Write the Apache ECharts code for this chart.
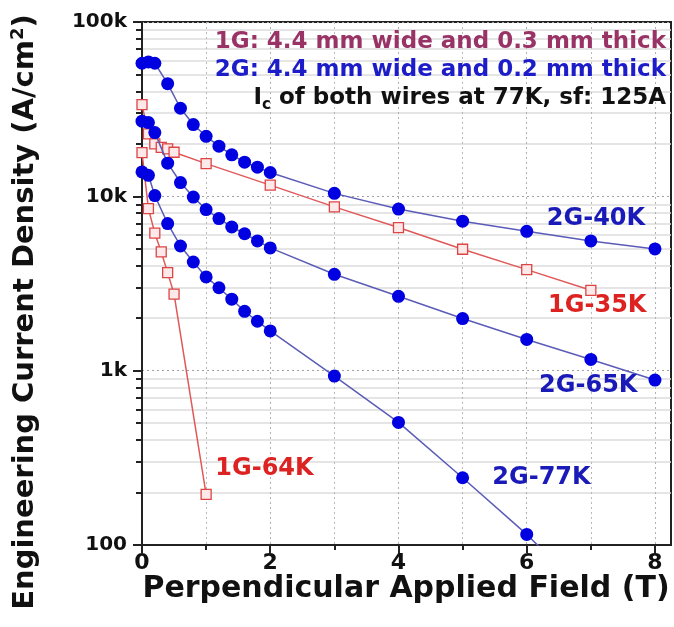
<!DOCTYPE html>
<html>
<head>
<meta charset="utf-8">
<script src="https://cdn.jsdelivr.net/npm/echarts@6/dist/echarts.min.js"></script>
<style>
html,body{margin:0;padding:0;background:#fff;}
#chart{width:674px;height:627px;}
</style>
</head>
<body>
<div id="chart"></div>
<script>
// ---- data ----
const x2G40 = [0, 0.1, 0.2, 0.4, 0.6, 0.8, 1.0, 1.2, 1.4, 1.6, 1.8, 2, 3, 4, 5, 6, 7, 8];
const y2G40 = [58000, 59000, 58000, 44300, 32000, 25800, 22100, 19400, 17300, 15700, 14700, 13700, 10400, 8450, 7200, 6300, 5550, 4990];

const x2G65 = [0, 0.1, 0.2, 0.4, 0.6, 0.8, 1.0, 1.2, 1.4, 1.6, 1.8, 2, 3, 4, 5, 6, 7, 8];
const y2G65 = [27000, 26500, 23200, 15500, 12000, 9900, 8400, 7450, 6670, 6100, 5550, 5060, 3570, 2670, 1990, 1510, 1160, 883];

const x2G77 = [0, 0.1, 0.2, 0.4, 0.6, 0.8, 1.0, 1.2, 1.4, 1.6, 1.8, 2, 3, 4, 5, 6, 7];
const y2G77 = [13800, 13200, 10100, 6980, 5190, 4200, 3450, 2990, 2570, 2190, 1920, 1690, 931, 505, 243, 115, 50];

const x1G35 = [0, 0.1, 0.2, 0.3, 0.4, 0.5, 1, 2, 3, 4, 5, 6, 7];
const y1G35 = [33600, 22800, 20000, 19100, 18700, 17900, 15400, 11600, 8700, 6620, 4970, 3800, 2890];

const x1G64 = [0, 0.1, 0.2, 0.3, 0.4, 0.5, 1];
const y1G64 = [17800, 8500, 6150, 4800, 3650, 2750, 195];

const xMajorTicks = [0, 2, 4, 6, 8];
const xMinorTicks = [1, 3, 5, 7];
const yMajorTicks = [100, 1000, 10000, 100000];
const yMinorTicks = [200, 300, 400, 500, 600, 700, 800, 900,
                     2000, 3000, 4000, 5000, 6000, 7000, 8000, 9000,
                     20000, 30000, 40000, 50000, 60000, 70000, 80000, 90000];
const yTickLabels = {100: '100', 1000: '1k', 10000: '10k', 100000: '100k'};

const textLine1 = '1G: 4.4 mm wide and 0.3 mm thick';
const textLine2 = '2G: 4.4 mm wide and 0.2 mm thick';
const textLine3a = 'I';
const textLine3b = 'c';
const textLine3c = ' of both wires at 77K, sf: 125A';
const xTitle = 'Perpendicular Applied Field (T)';
const yTitleA = 'Engineering Current Density (A/cm';
const yTitleSup = '2';
const yTitleB = ')';

// ---- build ----
const FF = '"DejaVu Sans", "Liberation Sans", Arial, sans-serif';
const pairs = (xs, ys) => xs.map((v, i) => [v, ys[i]]);

const BLUE_LINE = '#5b5bb8';
const BLUE_DOT = '#0000e0';
const RED_LINE = '#e05858';
const RED_TEXT = '#dd2222';
const BLUE_TEXT = '#1a1ab8';

function labelPoint(text, coord, color) {
  return {
    silent: true,
    symbol: 'circle',
    symbolSize: 1,
    itemStyle: {color: 'rgba(0,0,0,0)'},
    label: {show: true, position: 'inside', formatter: text, color: color,
            fontFamily: FF, fontWeight: 'bold', fontSize: 24},
    data: [{coord: coord}]
  };
}

function blueSeries(name, xs, ys, lp) {
  return {
    name: name, type: 'line', xAxisIndex: 0, yAxisIndex: 0,
    data: pairs(xs, ys), clip: true,
    symbol: 'circle', symbolSize: 13,
    lineStyle: {color: BLUE_LINE, width: 1.5},
    itemStyle: {color: BLUE_DOT, borderWidth: 0},
    markPoint: labelPoint(name, lp, BLUE_TEXT),
    z: 3
  };
}
function redSeries(name, xs, ys, lp) {
  return {
    name: name, type: 'line', xAxisIndex: 0, yAxisIndex: 0,
    data: pairs(xs, ys), clip: true,
    symbol: 'rect', symbolSize: 10,
    lineStyle: {color: RED_LINE, width: 1.5},
    itemStyle: {color: '#fde9e9', borderColor: '#dd4444', borderWidth: 1.3},
    markPoint: labelPoint(name, lp, RED_TEXT),
    z: 2
  };
}

const chart = echarts.init(document.getElementById('chart'), null, {renderer: 'canvas'});
const option = {
  animation: false,
  backgroundColor: '#ffffff',
  textStyle: {fontFamily: FF},
  grid: {left: 142, right: 3, top: 22, bottom: 82, show: true,
         borderColor: '#222', borderWidth: 2, backgroundColor: 'rgba(0,0,0,0)', containLabel: false},
  xAxis: [
    {type: 'value', min: 0, max: 8.25, position: 'bottom',
     axisLine: {show: true, lineStyle: {color: '#222', width: 2}},
     axisTick: {show: true, customValues: xMajorTicks, length: 8, lineStyle: {color: '#222', width: 2}},
     axisLabel: {customValues: xMajorTicks, fontSize: 22, fontWeight: 'bold', color: '#111', margin: 7, fontFamily: FF},
     splitLine: {show: true, lineStyle: {color: '#b0b0b0', type: [2, 3], width: 1}}},
    {type: 'value', min: 0, max: 8.25, position: 'bottom',
     axisLine: {show: false},
     axisTick: {show: true, customValues: xMinorTicks, length: 5, lineStyle: {color: '#222', width: 2}},
     axisLabel: {show: false},
     splitLine: {show: true, lineStyle: {color: '#b8b8b8', type: [2, 3], width: 1}}}
  ],
  yAxis: [
    {type: 'log', logBase: 10, min: 100, max: 100000, position: 'left',
     axisLine: {show: true, lineStyle: {color: '#222', width: 2}},
     axisTick: {show: true, customValues: yMajorTicks, length: 9, lineStyle: {color: '#222', width: 2}},
     axisLabel: {customValues: yMajorTicks, formatter: v => yTickLabels[Math.round(v)] || '',
                 fontSize: 20, fontWeight: 'bold', color: '#111', margin: 15, fontFamily: FF},
     splitLine: {show: true, lineStyle: {color: '#a0a0a0', type: [2, 3], width: 1.2}}},
    {type: 'log', logBase: 10, min: 100, max: 100000, position: 'left',
     axisLine: {show: false},
     axisTick: {show: true, customValues: yMinorTicks, length: 6, lineStyle: {color: '#222', width: 2}},
     axisLabel: {show: false},
     splitLine: {show: true, lineStyle: {color: '#dcdcdc', width: 1.5}}}
  ],
  series: [
    redSeries('1G-64K', x1G64, y1G64, [1.91, 273]),
    redSeries('1G-35K', x1G35, y1G35, [7.1, 2370]),
    blueSeries('2G-40K', x2G40, y2G40, [7.08, 7480]),
    blueSeries('2G-65K', x2G65, y2G65, [6.96, 815]),
    blueSeries('2G-77K', x2G77, y2G77, [6.23, 242])
  ],
  graphic: [
    {type: 'text', x: 666, y: 42, z: 10,
     style: {text: textLine1, fill: '#993366', font: 'bold 23px ' + FF, align: 'right', verticalAlign: 'middle'}},
    {type: 'text', x: 666, y: 70, z: 10,
     style: {text: textLine2, fill: '#1c1cc8', font: 'bold 23px ' + FF, align: 'right', verticalAlign: 'middle'}},
    {type: 'text', x: 666, y: 98, z: 10,
     style: {text: '{a|' + textLine3a + '}{s|' + textLine3b + '}{a|' + textLine3c + '}',
             align: 'right', verticalAlign: 'middle',
             rich: {a: {fontFamily: FF, fontWeight: 'bold', fontSize: 23, fill: '#111', color: '#111', lineHeight: 28},
                    s: {fontFamily: FF, fontWeight: 'bold', fontSize: 15, fill: '#111', color: '#111', lineHeight: 28, padding: [14, 0, 0, 0]}}}},
    {type: 'text', x: 406, y: 589, z: 10,
     style: {text: xTitle, fill: '#111', font: 'bold 30px ' + FF, align: 'center', verticalAlign: 'middle'}},
    {type: 'text', x: 25, y: 312, rotation: Math.PI / 2, z: 10,
     style: {text: '{t|' + yTitleA + '}{p|' + yTitleSup + '}{t|' + yTitleB + '}',
             align: 'center', verticalAlign: 'middle',
             rich: {t: {fontFamily: FF, fontWeight: 'bold', fontSize: 29, fill: '#111', color: '#111', lineHeight: 36},
                    p: {fontFamily: FF, fontWeight: 'bold', fontSize: 18, fill: '#111', color: '#111', lineHeight: 36, padding: [0, 0, 14, 0]}}}}
  ]
};
chart.setOption(option);
</script>
</body>
</html>
